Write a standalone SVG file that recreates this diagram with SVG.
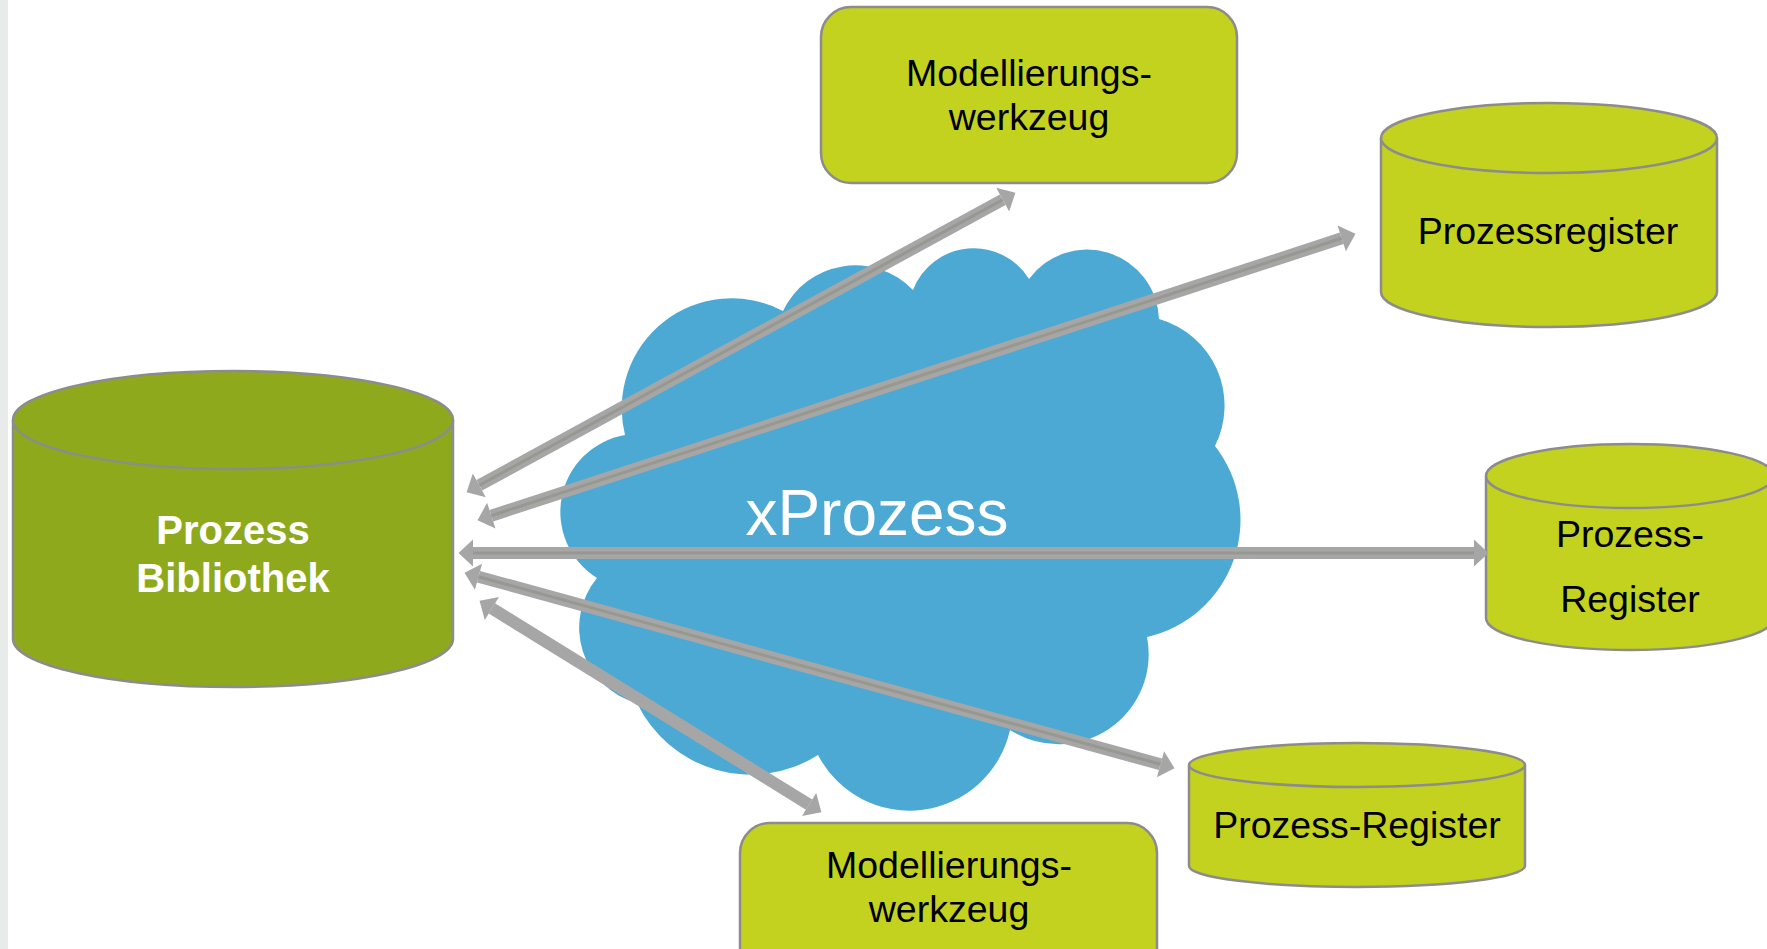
<svg xmlns="http://www.w3.org/2000/svg" width="1767" height="949" viewBox="0 0 1767 949">
<style>
  .dark { fill: #8EAA1C; stroke: #8C8C8C; stroke-width: 2.5; }
  .lime { fill: #C3D21E; stroke: #8C8C8C; stroke-width: 2.5; }
  .cloud { fill: #4BA9D4; }
  .lbl { font-family: "Liberation Sans", Arial, sans-serif; font-size: 37.5px; fill: #000; text-anchor: middle; }
  .lblw { font-family: "Liberation Sans", Arial, sans-serif; font-size: 40px; font-weight: bold; fill: #FFF; text-anchor: middle; }
  .cl { font-family: "Liberation Sans", Arial, sans-serif; font-size: 64px; fill: #FFF; text-anchor: middle; }
  .shaft { stroke: #A6A6A6; stroke-width: 12; fill: none; marker-start: url(#head); marker-end: url(#head); }
  .core { stroke: #97988F; stroke-width: 3; fill: none; }
</style>
<defs>
  <marker id="head" markerUnits="userSpaceOnUse" viewBox="0 -14 15 28" refX="0" refY="0" markerWidth="15" markerHeight="28" orient="auto-start-reverse" overflow="visible">
    <path d="M0,-13.5 L14.5,0 L0,13.5 Z" fill="#A6A6A6"/>
  </marker>
</defs>
<rect x="0" y="0" width="1767" height="949" fill="#FFFFFF"/>
<rect x="0" y="0" width="8" height="949" fill="#E9EBEA"/>

<g id="xprozess">
  <path class="cloud" d="M625,435 A110,110 0 0 1 783,311 A80,80 0 0 1 913,290 A65,65 0 0 1 1029,279 A72,72 0 0 1 1159,319 A90,90 0 0 1 1215,446 A120,120 0 0 1 1147,637 A90,90 0 0 1 1010,730 A103,103 0 0 1 818,755 A126,126 0 0 1 637,703 A78,78 0 0 1 597,578 A78,78 0 0 1 625,435 Z"/>
  <text class="cl" x="877" y="535">xProzess</text>
</g>

<g id="prozess-bibliothek">
  <path class="dark" d="M13,420 L13,639 A220,48 0 0 0 453,639 L453,420"/>
  <ellipse class="dark" cx="233" cy="420" rx="220" ry="49"/>
  <text class="lblw" x="233" y="544">Prozess</text>
  <text class="lblw" x="233" y="592">Bibliothek</text>
</g>

<g id="modellierungswerkzeug-oben">
  <rect class="lime" x="821" y="7" width="416" height="176" rx="30" ry="30"/>
  <text class="lbl" x="1029" y="86">Modellierungs-</text>
  <text class="lbl" x="1029" y="130">werkzeug</text>
</g>

<g id="prozessregister">
  <path class="lime" d="M1381,138 L1381,292 A168,35 0 0 0 1717,292 L1717,138"/>
  <ellipse class="lime" cx="1549" cy="138" rx="168" ry="35"/>
  <text class="lbl" x="1548" y="244">Prozessregister</text>
</g>

<g id="prozess-register-rechts">
  <path class="lime" d="M1486,476 L1486,618 A144,32 0 0 0 1774,618 L1774,476"/>
  <ellipse class="lime" cx="1630" cy="476" rx="144" ry="32"/>
  <text class="lbl" x="1630" y="547">Prozess-</text>
  <text class="lbl" x="1630" y="612">Register</text>
</g>

<g id="prozess-register-unten">
  <path class="lime" d="M1189,765 L1189,866 A168,21 0 0 0 1525,866 L1525,765"/>
  <ellipse class="lime" cx="1357" cy="765" rx="168" ry="22"/>
  <text class="lbl" x="1357" y="838">Prozess-Register</text>
</g>

<g id="modellierungswerkzeug-unten">
  <rect class="lime" x="740" y="823" width="417" height="176" rx="30" ry="30"/>
  <text class="lbl" x="949" y="878">Modellierungs-</text>
  <text class="lbl" x="949" y="922">werkzeug</text>
</g>

<g id="connectors">
  <line class="shaft" x1="479.3" y1="485.3" x2="1002.7" y2="199.7"/>
  <line class="core" x1="479.3" y1="485.3" x2="1002.7" y2="199.7"/>
  <line class="shaft" x1="491.3" y1="515.7" x2="1341.7" y2="238.3"/>
  <line class="core" x1="491.3" y1="515.7" x2="1341.7" y2="238.3"/>
  <line class="shaft" x1="473" y1="553" x2="1474" y2="553"/>
  <line class="core" x1="473" y1="553" x2="1474" y2="553"/>
  <line class="shaft" x1="478.5" y1="576.7" x2="1160.5" y2="764.3"/>
  <line class="core" x1="478.5" y1="576.7" x2="1160.5" y2="764.3"/>
  <line class="shaft" x1="491.9" y1="608.4" x2="809.1" y2="804.6"/>
</g>
</svg>
